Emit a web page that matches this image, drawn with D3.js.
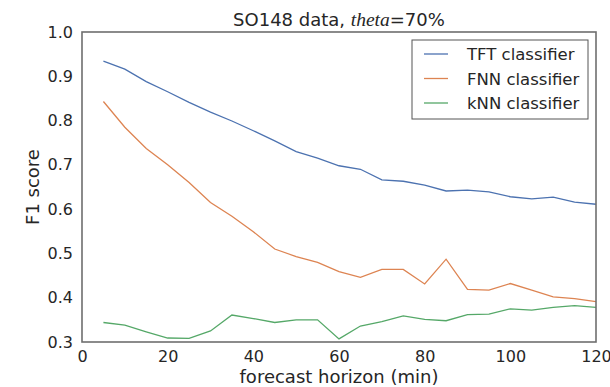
<!DOCTYPE html>
<html>
<head>
<meta charset="utf-8">
<script src="https://cdn.jsdelivr.net/npm/d3@7"></script>
<style>
  body { margin: 0; background: #fff; }
  text { font-family: "DejaVu Sans", sans-serif; fill: #262626; }
</style>
</head>
<body>
<script>
// chart size and plot margins
var w = 610;
var h = 387;
var margin = {top: 32, right: 14, bottom: 45, left: 82};

// forecast horizon (min)
var horizon = [5, 10, 15, 20, 25, 30, 35, 40, 45, 50, 55, 60,
               65, 70, 75, 80, 85, 90, 95, 100, 105, 110, 115, 120];

// F1 scores
var tft = [0.934, 0.916, 0.888, 0.865, 0.841, 0.819, 0.799, 0.777, 0.754, 0.730, 0.715, 0.698,
           0.690, 0.666, 0.663, 0.654, 0.641, 0.643, 0.639, 0.628, 0.623, 0.627, 0.616, 0.611];
var fnn = [0.843, 0.785, 0.737, 0.700, 0.660, 0.615, 0.584, 0.549, 0.510, 0.493, 0.480, 0.459,
           0.446, 0.464, 0.464, 0.431, 0.487, 0.419, 0.417, 0.432, 0.417, 0.402, 0.398, 0.391];
var knn = [0.344, 0.338, 0.323, 0.309, 0.308, 0.325, 0.361, 0.353, 0.344, 0.350, 0.350, 0.307,
           0.336, 0.346, 0.359, 0.351, 0.348, 0.362, 0.363, 0.375, 0.372, 0.378, 0.382, 0.378];

var seriesNames = ["TFT classifier", "FNN classifier", "kNN classifier"];
var seriesColors = ["#4c72b0", "#dd8452", "#55a868"];
var xTicks = [0, 20, 40, 60, 80, 100, 120];
var yTicks = [0.3, 0.4, 0.5, 0.6, 0.7, 0.8, 0.9, 1.0];

var svg = d3.select("body")
    .append("svg")
    .attr("width", w)
    .attr("height", h);

var xScale = d3.scaleLinear()
    .domain([0, 120])
    .range([margin.left, w - margin.right]);

var yScale = d3.scaleLinear()
    .domain([0.3, 1.0])
    .range([h - margin.bottom, margin.top]);

// axes without tick marks (seaborn white style)
var xAxis = d3.axisBottom(xScale)
    .tickValues(xTicks)
    .tickSize(0)
    .tickPadding(9)
    .tickFormat(d3.format("d"));

var yAxis = d3.axisLeft(yScale)
    .tickValues(yTicks)
    .tickSize(0)
    .tickPadding(9)
    .tickFormat(d3.format(".1f"));

var gx = svg.append("g")
    .attr("transform", "translate(0," + (h - margin.bottom) + ")")
    .call(xAxis);

var gy = svg.append("g")
    .attr("transform", "translate(" + margin.left + ",0)")
    .call(yAxis);

[gx, gy].forEach(function(g) {
    g.select(".domain").remove();
    g.selectAll("text")
        .attr("fill", "#262626")
        .style("font-size", "16px")
        .style("font-family", "DejaVu Sans");
});

// lines
var line = d3.line()
    .x(function(d) { return xScale(d[0]); })
    .y(function(d) { return yScale(d[1]); });

[tft, fnn, knn].forEach(function(vals, i) {
    svg.append("path")
        .datum(horizon.map(function(x, j) { return [x, vals[j]]; }))
        .attr("fill", "none")
        .attr("stroke", seriesColors[i])
        .attr("stroke-width", 1.3)
        .attr("d", line);
});

// frame around plot
svg.append("rect")
    .attr("x", margin.left)
    .attr("y", margin.top)
    .attr("width", w - margin.left - margin.right)
    .attr("height", h - margin.top - margin.bottom)
    .attr("fill", "none")
    .attr("stroke", "#6e6e6e")
    .attr("stroke-width", 1.6);

// title, with theta in math italic
var title = svg.append("text")
    .attr("x", (margin.left + w - margin.right) / 2)
    .attr("y", 26)
    .attr("text-anchor", "middle")
    .style("font-size", "18px");
title.append("tspan").text("SO148 data, ");
title.append("tspan")
    .style("font-family", "Liberation Serif")
    .style("font-style", "italic")
    .style("font-size", "19.5px")
    .text("theta");
title.append("tspan").text("=70%");

// axis labels
svg.append("text")
    .attr("x", (margin.left + w - margin.right) / 2)
    .attr("y", h - 4)
    .attr("text-anchor", "middle")
    .style("font-size", "18px")
    .text("forecast horizon (min)");

svg.append("text")
    .attr("transform", "rotate(-90)")
    .attr("x", -(margin.top + h - margin.bottom) / 2)
    .attr("y", 39)
    .attr("text-anchor", "middle")
    .style("font-size", "18px")
    .text("F1 score");

// legend
var legend = svg.append("g")
    .attr("transform", "translate(412,40)");

legend.append("rect")
    .attr("width", 176)
    .attr("height", 79)
    .attr("fill", "#fff")
    .attr("stroke", "#555")
    .attr("stroke-width", 1);

seriesNames.forEach(function(name, i) {
    var y = 14 + i * 24.5;
    legend.append("line")
        .attr("x1", 12).attr("x2", 36)
        .attr("y1", y).attr("y2", y)
        .attr("stroke", seriesColors[i])
        .attr("stroke-width", 1.3);
    legend.append("text")
        .attr("x", 55)
        .attr("y", y + 6)
        .style("font-size", "16.5px")
        .text(name);
});
</script>
</body>
</html>
